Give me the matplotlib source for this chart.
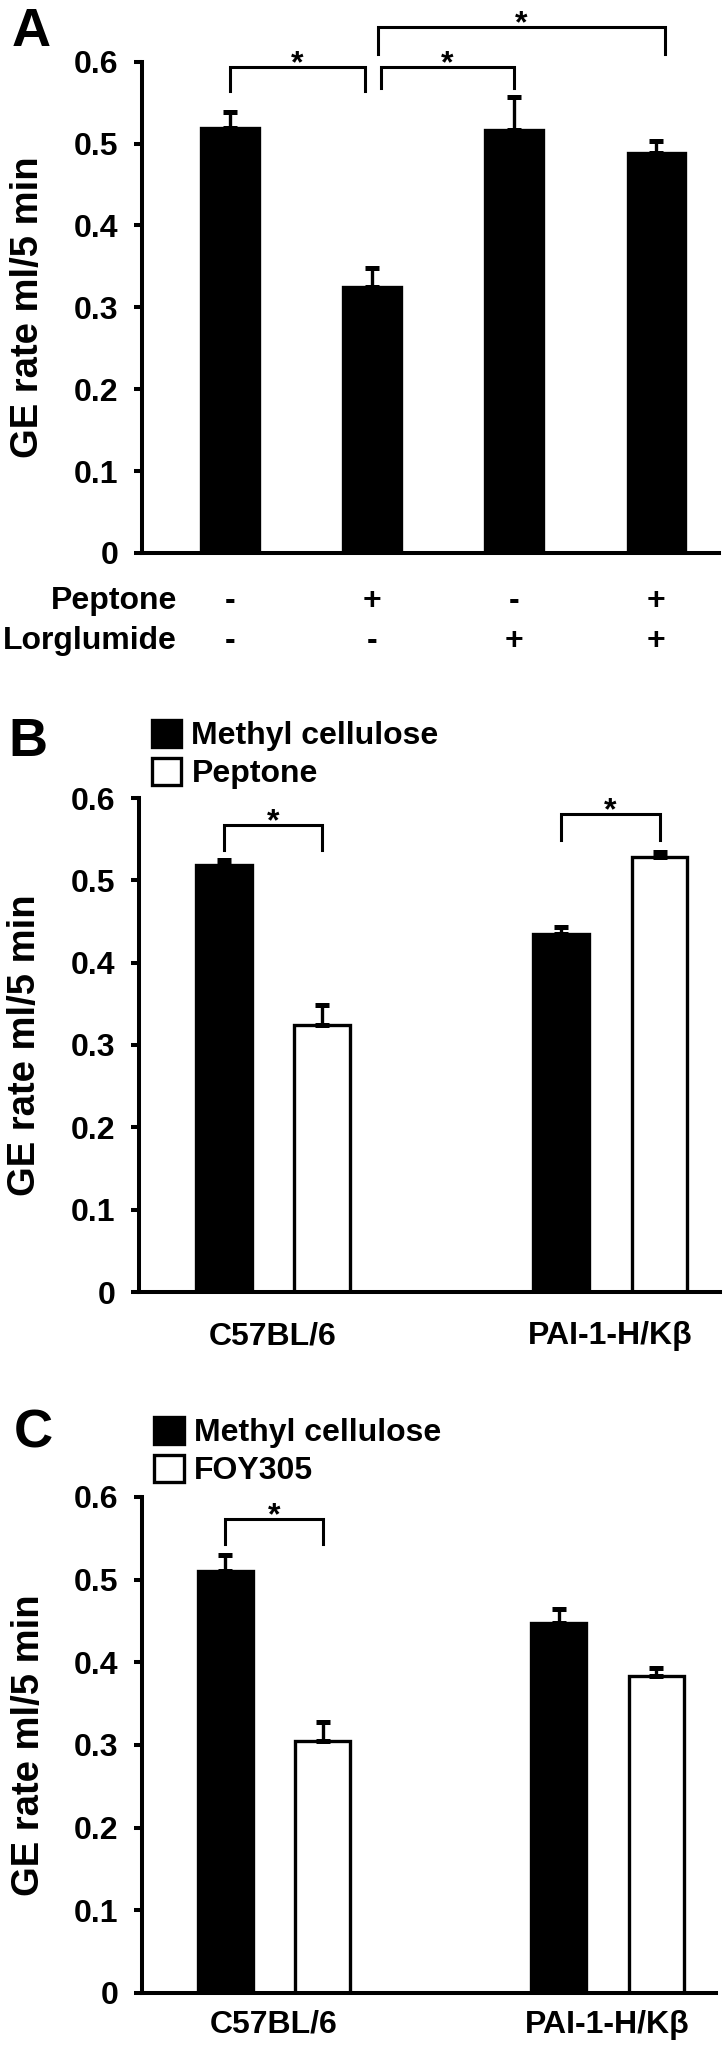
import numpy as np
import matplotlib
matplotlib.use('Agg')
import matplotlib.pyplot as plt

plt.rcParams['font.family'] = ['Liberation Sans', 'DejaVu Sans']
plt.rcParams['font.weight'] = 'bold'

# ---- panel A data
a_means = [0.519, 0.325, 0.517, 0.488]
a_err = [0.020, 0.023, 0.040, 0.015]
a_peptone = ['-', '+', '-', '+']
a_lorglumide = ['-', '-', '+', '+']
# brackets: left x, right x, top, left leg end, right leg end
a_sig = [(0.0, 0.95, 0.593, 0.564, 0.564),
         (1.06, 2.0, 0.593, 0.568, 0.568),
         (1.04, 3.06, 0.642, 0.609, 0.609)]

# ---- panel B data
groups = ['C57BL/6', 'PAI-1-H/Kβ']
b_mc = [0.519, 0.435]
b_mc_err = [0.006, 0.008]
b_pep = [0.324, 0.528]
b_pep_err = [0.024, 0.007]
b_sig = [(0, 0.567, 0.537, 0.537), (1, 0.580, 0.549, 0.549)]

# ---- panel C data
c_mc = [0.510, 0.447]
c_mc_err = [0.020, 0.017]
c_foy = [0.305, 0.383]
c_foy_err = [0.023, 0.010]
c_sig = [(0, 0.573, 0.543, 0.543)]

yticks = [0, 0.1, 0.2, 0.3, 0.4, 0.5, 0.6]
ytick_labels = ['0', '0.1', '0.2', '0.3', '0.4', '0.5', '0.6']

FS = 23
W, H = 727, 2050
fig = plt.figure(figsize=(W / 100, H / 100), dpi=100)


def px_axes(l, r, t, b):
    return fig.add_axes([l / W, 1 - b / H, (r - l) / W, (b - t) / H])


def style(ax):
    ax.set_ylim(0, 0.6)
    ax.set_yticks(yticks)
    ax.set_yticklabels(ytick_labels)
    ax.spines[['top', 'right']].set_visible(False)
    for s in ['left', 'bottom']:
        ax.spines[s].set_linewidth(2.9)
    ax.tick_params(axis='y', length=5.8, width=2.9, pad=11, labelsize=FS)
    ax.tick_params(axis='x', length=0)
    ax.set_ylabel('GE rate ml/5 min', fontsize=27.5, fontweight='bold')
    ax.yaxis.set_label_coords(-0.165, 0.5)


def bracket(ax, x1, x2, top, l1, l2):
    ax.plot([x1, x1, x2, x2], [l1, top, top, l2], color='black', lw=2.2,
            clip_on=False, solid_joinstyle='miter')
    ax.text((x1 + x2) / 2, top - 0.006, '*', ha='center', va='baseline',
            fontsize=FS)


def err(ax, x, m, e):
    ax.errorbar(x, m, yerr=[np.zeros(len(m)), e], fmt='none', ecolor='black',
                elinewidth=2.4, capsize=5, capthick=3.6)


# ---------------- A
axA = px_axes(141.7, 719, 61.7, 553)
xa = np.arange(len(a_means))
axA.bar(xa, a_means, width=0.405, color='black', edgecolor='black', lw=2.4)
err(axA, xa, a_means, a_err)
axA.set_xlim(-0.62, 3.44)
axA.set_xticks([])
style(axA)
for x1, x2, top, l1, l2 in a_sig:
    bracket(axA, x1, x2, top, l1, l2)
for row, (name, signs) in enumerate([('Peptone', a_peptone), ('Lorglumide', a_lorglumide)]):
    off = -40 - 29 * row
    axA.annotate(name, xy=(-0.37, 0), xycoords=('data', 'axes fraction'),
                 xytext=(0, off), textcoords='offset points',
                 ha='right', va='baseline', fontsize=FS)
    for x, s in zip(xa, signs):
        axA.annotate(s, xy=(x, 0), xycoords=('data', 'axes fraction'),
                     xytext=(0, off), textcoords='offset points',
                     ha='center', va='baseline', fontsize=FS)
fig.text(12 / W, 1 - 32 / H, 'A', fontsize=39, fontweight='bold', va='center')


def grouped(ax, mc, mc_e, other, other_e, other_name, sig, label_pad, leg_y):
    x = np.arange(len(groups))
    off = 0.146
    b1 = ax.bar(x - off, mc, width=0.165, color='black', edgecolor='black', lw=2.4)
    b2 = ax.bar(x + off, other, width=0.165, color='white', edgecolor='black', lw=2.4)
    err(ax, x - off, mc, mc_e)
    err(ax, x + off, other, other_e)
    ax.set_xlim(-0.397, 1.325)
    ax.set_xticks(x)
    ax.set_xticklabels(groups, fontsize=FS)
    style(ax)
    ax.tick_params(axis='x', pad=label_pad)
    for g, top, l1, l2 in sig:
        bracket(ax, g - off, g + off, top, l1, l2)
    ax.legend([b1, b2], ['Methyl cellulose', other_name], loc='lower left',
              bbox_to_anchor=(0.022, leg_y), frameon=False, fontsize=FS,
              handlelength=0.92, handleheight=0.92, handletextpad=0.32,
              labelspacing=0.2, borderpad=0, borderaxespad=0)


# ---------------- B
axB = px_axes(139, 720, 798, 1292)
grouped(axB, b_mc, b_mc_err, b_pep, b_pep_err, 'Peptone', b_sig, 21, 1.018)
fig.text(8 / W, 1 - 742 / H, 'B', fontsize=39, fontweight='bold', va='center')

# ---------------- C
axC = px_axes(141.7, 716, 1497, 1993)
grouped(axC, c_mc, c_mc_err, c_foy, c_foy_err, 'FOY305', c_sig, 12, 1.022)
fig.text(14 / W, 1 - 1434 / H, 'C', fontsize=39, fontweight='bold', va='center')

fig.savefig('out.png', dpi=100)
